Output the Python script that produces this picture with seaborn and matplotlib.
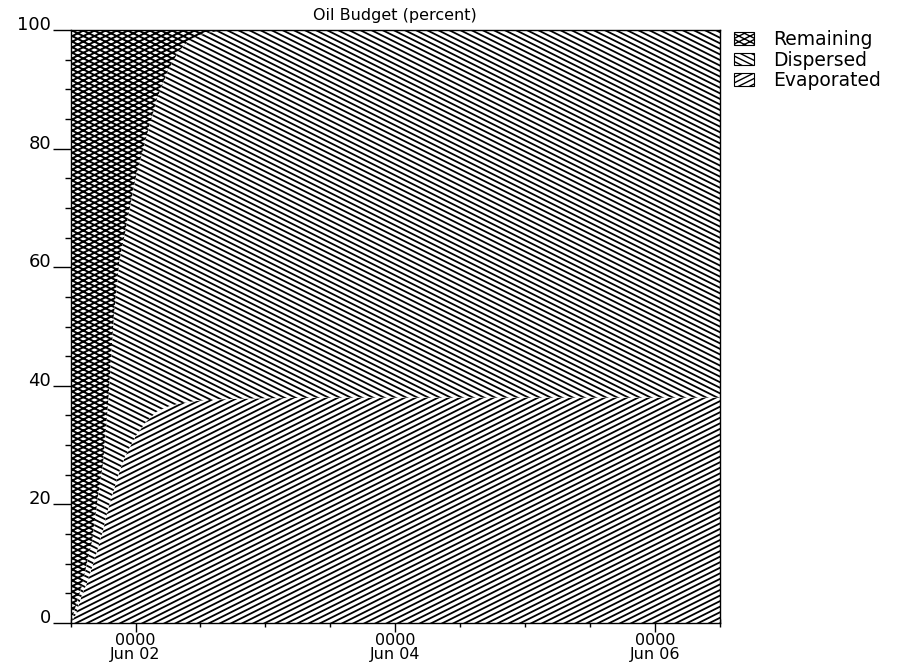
import numpy as np
import pandas as pd
import matplotlib
matplotlib.use("Agg")
import matplotlib.pyplot as plt
import matplotlib.dates as mdates
import matplotlib.hatch as mhatch
from matplotlib.path import Path
import seaborn as sns

# ---- oil budget (percent of spilled volume), hours after release ----
hours = [0, 1, 2, 3, 4, 5, 6, 7, 8, 9, 10, 12, 14, 16, 18, 20, 22, 24,
         27, 30, 36, 48, 60, 72, 84, 96, 108, 120]
evaporated = [0.0, 1.5, 4.5, 6.7, 9.5, 12.5, 15.7, 19.5, 22.5, 25.5, 28.0,
              31.5, 34.0, 35.7, 36.5, 37.0, 37.3, 37.5, 37.7, 37.8, 37.9,
              38.0, 38.0, 38.0, 38.0, 38.0, 38.0, 38.0]
dispersed = [0.0, 1.5, 1.5, 3.3, 4.5, 8.5, 11.3, 18.5, 29.5, 35.5, 37.5,
             43.5, 48.0, 52.8, 56.7, 59.5, 60.9, 61.7, 62.1, 62.2, 62.1,
             62.0, 62.0, 62.0, 62.0, 62.0, 62.0, 62.0]
remaining = [100.0, 97.0, 94.0, 90.0, 86.0, 79.0, 73.0, 62.0, 48.0, 39.0,
             34.5, 25.0, 18.0, 11.5, 6.8, 3.5, 1.8, 0.8, 0.2, 0.0, 0.0,
             0.0, 0.0, 0.0, 0.0, 0.0, 0.0, 0.0]
start = pd.Timestamp("2010-06-01 12:00")
series_names = ["Remaining", "Dispersed", "Evaporated"]
series_hatch = {"Remaining": "xxx", "Dispersed": "\\\\\\", "Evaporated": "///"}
series_hatch_lw = {"Remaining": 1.4, "Dispersed": 1.3, "Evaporated": 1.3}


# ---- shallow (1:2) diagonal hatching instead of the default 45 degrees ----
class _SlantHatch(mhatch.HatchPatternBase):
    chars = ""
    slope = 0.5

    def __init__(self, hatch, density):
        n = int(sum(hatch.count(c) for c in self.chars) * density)
        n += n % 2
        if n:
            self.offsets = np.arange(-n // 2 - 1, n + 2) / n
            if self.slope < 0:
                self.offsets = self.offsets + 0.5
            self.num_vertices = 2 * len(self.offsets)
        else:
            self.offsets = np.empty(0)
            self.num_vertices = 0

    def set_vertices_and_codes(self, vertices, codes):
        x0, x1 = -0.05, 1.05
        c = self.offsets
        vertices[0::2, 0] = x0
        vertices[0::2, 1] = c + self.slope * x0
        vertices[1::2, 0] = x1
        vertices[1::2, 1] = c + self.slope * x1
        codes[0::2] = Path.MOVETO
        codes[1::2] = Path.LINETO


class RisingHatch(_SlantHatch):
    chars = "/xX"
    slope = 0.5


class FallingHatch(_SlantHatch):
    chars = "\\xX"
    slope = -0.5


mhatch._hatch_types[:] = [t for t in mhatch._hatch_types
                          if t not in (mhatch.NorthEastHatch, mhatch.SouthEastHatch)]
mhatch._hatch_types += [RisingHatch, FallingHatch]

# ---- data frame ----
df = pd.DataFrame({
    "time": start + pd.to_timedelta(hours, unit="h"),
    "Evaporated": evaporated,
    "Dispersed": dispersed,
    "Remaining": remaining,
})
df["lvl_evap"] = df["Evaporated"]
df["lvl_disp"] = df["lvl_evap"] + df["Dispersed"]
df["lvl_top"] = df["lvl_disp"] + df["Remaining"]

sns.set_theme(style="ticks")
plt.rcParams["font.family"] = ["DejaVu Sans"]
plt.rcParams["hatch.color"] = "black"

fig = plt.figure(figsize=(9.07, 6.68), dpi=100)
ax = fig.add_axes([70.6 / 907, 1 - 623 / 668, (720 - 70.6) / 907, (623 - 30) / 668])

bands = {
    "Evaporated": (np.zeros(len(df)), df["lvl_evap"]),
    "Dispersed": (df["lvl_evap"], df["lvl_disp"]),
    "Remaining": (df["lvl_disp"], df["lvl_top"]),
}
handles = {}
for name in ["Evaporated", "Dispersed", "Remaining"]:
    lo, hi = bands[name]
    with plt.rc_context({"hatch.linewidth": series_hatch_lw[name]}):
        coll = ax.fill_between(df["time"], lo, hi, facecolor="white",
                               edgecolor="black", linewidth=0,
                               hatch=series_hatch[name], label=name)
    if hasattr(coll, "set_hatch_linewidth"):
        coll.set_hatch_linewidth(series_hatch_lw[name])
    handles[name] = coll

ax.set_xlim(df["time"].iloc[0], df["time"].iloc[-1])
ax.set_ylim(0, 100)

# axes / ticks
ax.set_yticks(np.arange(0, 101, 20))
ax.set_yticks(np.arange(0, 101, 5), minor=True)
ax.xaxis.set_major_locator(mdates.DayLocator(bymonthday=[2, 4, 6]))
ax.xaxis.set_minor_locator(mdates.HourLocator(byhour=[0, 12]))
ax.xaxis.set_major_formatter(mdates.DateFormatter("%H%M\n%b %d"))
ax.tick_params(axis="y", which="major", direction="out", length=13, width=1,
               pad=1, labelsize=13, color="black", labelcolor="black")
ax.tick_params(axis="y", which="minor", direction="out", length=4.5, width=1,
               color="black")
ax.tick_params(axis="x", which="major", direction="inout", length=13, width=1,
               pad=1, labelsize=11.5, color="black", labelcolor="black")
ax.tick_params(axis="x", which="minor", direction="inout", length=6, width=1,
               color="black")
for side in ["left", "bottom", "top", "right"]:
    ax.spines[side].set_visible(True)
    ax.spines[side].set_color("black")
    ax.spines[side].set_linewidth(1.0)

ax.set_xlabel("")
ax.set_ylabel("")
ax.set_title("Oil Budget (percent)", fontsize=11.5, pad=7, color="black")

leg = ax.legend([handles[n] for n in series_names], series_names,
                loc="upper left", bbox_to_anchor=(1.022, 1.0),
                frameon=False, fontsize=13.5, borderpad=0, borderaxespad=0,
                handlelength=1.07, handleheight=0.65, handletextpad=1.0,
                labelspacing=0.08)
for t in leg.get_texts():
    t.set_color("black")
for p in leg.get_patches():
    p.set_edgecolor("black")
    p.set_linewidth(0.8)

fig.canvas.draw()
for lbl in ax.get_yticklabels():
    lbl.set_verticalalignment("baseline")
for lbl in ax.get_xticklabels():
    lbl.set_linespacing(0.88)

fig.savefig("out.png", dpi=100)
